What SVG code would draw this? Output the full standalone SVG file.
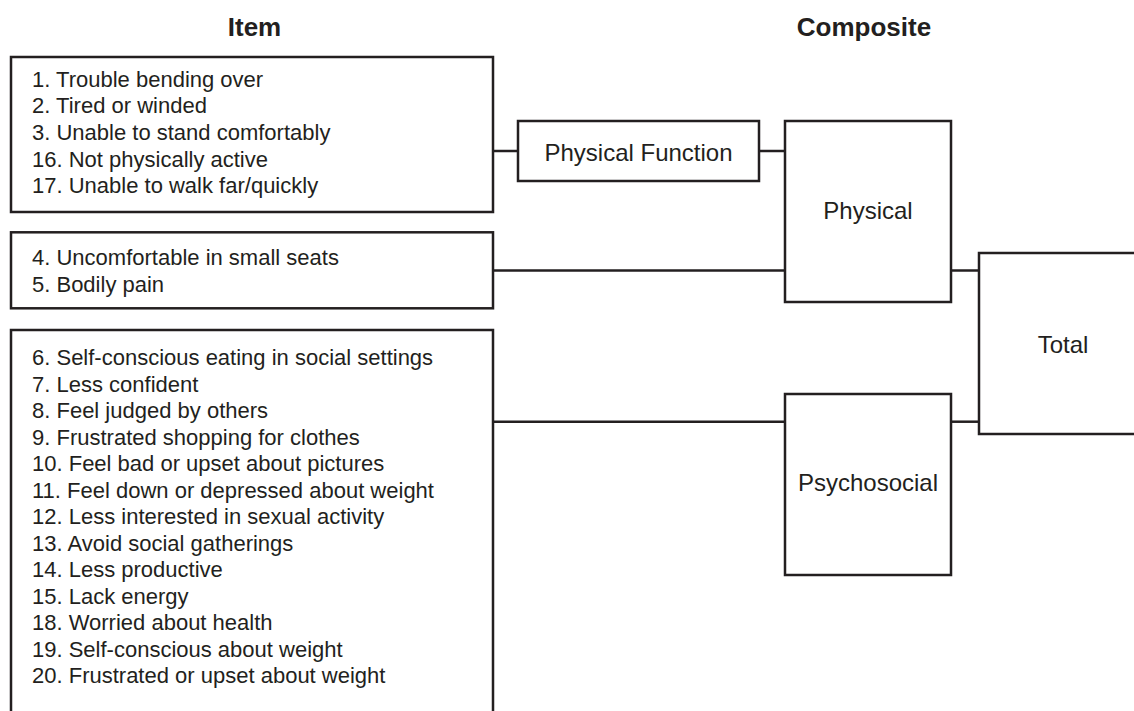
<svg xmlns="http://www.w3.org/2000/svg" width="1134" height="711" viewBox="0 0 1134 711">
<style>
.box{fill:#fff;stroke:#231f20;stroke-width:2.5}
.ln{stroke:#231f20;stroke-width:2.5;fill:none}
.it{font-family:"Liberation Sans",Arial,sans-serif;font-size:22px;fill:#231f20}
.cp{font-family:"Liberation Sans",Arial,sans-serif;font-size:24px;fill:#231f20;text-anchor:middle}
.hd{font-family:"Liberation Sans",Arial,sans-serif;font-size:26px;font-weight:bold;fill:#231f20;text-anchor:middle}
</style>
<rect width="1134" height="711" fill="#fff"/>
<g id="headers">
<text class="hd" x="254.5" y="36">Item</text>
<text class="hd" x="864" y="36">Composite</text>
</g>
<g id="connectors">
<line class="ln" x1="493" y1="151" x2="518" y2="151"/>
<line class="ln" x1="759" y1="151" x2="785" y2="151"/>
<line class="ln" x1="493" y1="270.5" x2="785" y2="270.5"/>
<line class="ln" x1="951" y1="270.5" x2="979" y2="270.5"/>
<line class="ln" x1="493" y1="421.7" x2="785" y2="421.7"/>
<line class="ln" x1="951" y1="421.7" x2="979" y2="421.7"/>
</g>
<g id="items-physical-function">
<rect class="box" x="11" y="57" width="482" height="155"/>
<text class="it" x="32" y="86.5">1. Trouble bending over</text>
<text class="it" x="32" y="113.2">2. Tired or winded</text>
<text class="it" x="32" y="139.9">3. Unable to stand comfortably</text>
<text class="it" x="32" y="166.6">16. Not physically active</text>
<text class="it" x="32" y="193.3">17. Unable to walk far/quickly</text>
</g>
<g id="items-physical">
<rect class="box" x="11" y="232.3" width="482" height="76"/>
<text class="it" x="32" y="265">4. Uncomfortable in small seats</text>
<text class="it" x="32" y="291.7">5. Bodily pain</text>
</g>
<g id="items-psychosocial">
<path class="ln" d="M11,720 V330 H493 V720"/>
<text class="it" x="32" y="365">6. Self-conscious eating in social settings</text>
<text class="it" x="32" y="391.5">7. Less confident</text>
<text class="it" x="32" y="418">8. Feel judged by others</text>
<text class="it" x="32" y="444.5">9. Frustrated shopping for clothes</text>
<text class="it" x="32" y="471">10. Feel bad or upset about pictures</text>
<text class="it" x="32" y="497.5">11. Feel down or depressed about weight</text>
<text class="it" x="32" y="524">12. Less interested in sexual activity</text>
<text class="it" x="32" y="550.5">13. Avoid social gatherings</text>
<text class="it" x="32" y="577">14. Less productive</text>
<text class="it" x="32" y="603.5">15. Lack energy</text>
<text class="it" x="32" y="630">18. Worried about health</text>
<text class="it" x="32" y="656.5">19. Self-conscious about weight</text>
<text class="it" x="32" y="683">20. Frustrated or upset about weight</text>
</g>
<g id="physical-function">
<rect class="box" x="518" y="121" width="241" height="60"/>
<text class="cp" x="638.5" y="160.5">Physical Function</text>
</g>
<g id="physical">
<rect class="box" x="785" y="121" width="166" height="181"/>
<text class="cp" x="868" y="219.3">Physical</text>
</g>
<g id="psychosocial">
<rect class="box" x="785" y="394" width="166" height="181"/>
<text class="cp" x="868" y="490.7">Psychosocial</text>
</g>
<g id="total">
<rect class="box" x="979" y="253" width="170" height="181"/>
<text class="cp" x="1063" y="352.7">Total</text>
</g>
</svg>
